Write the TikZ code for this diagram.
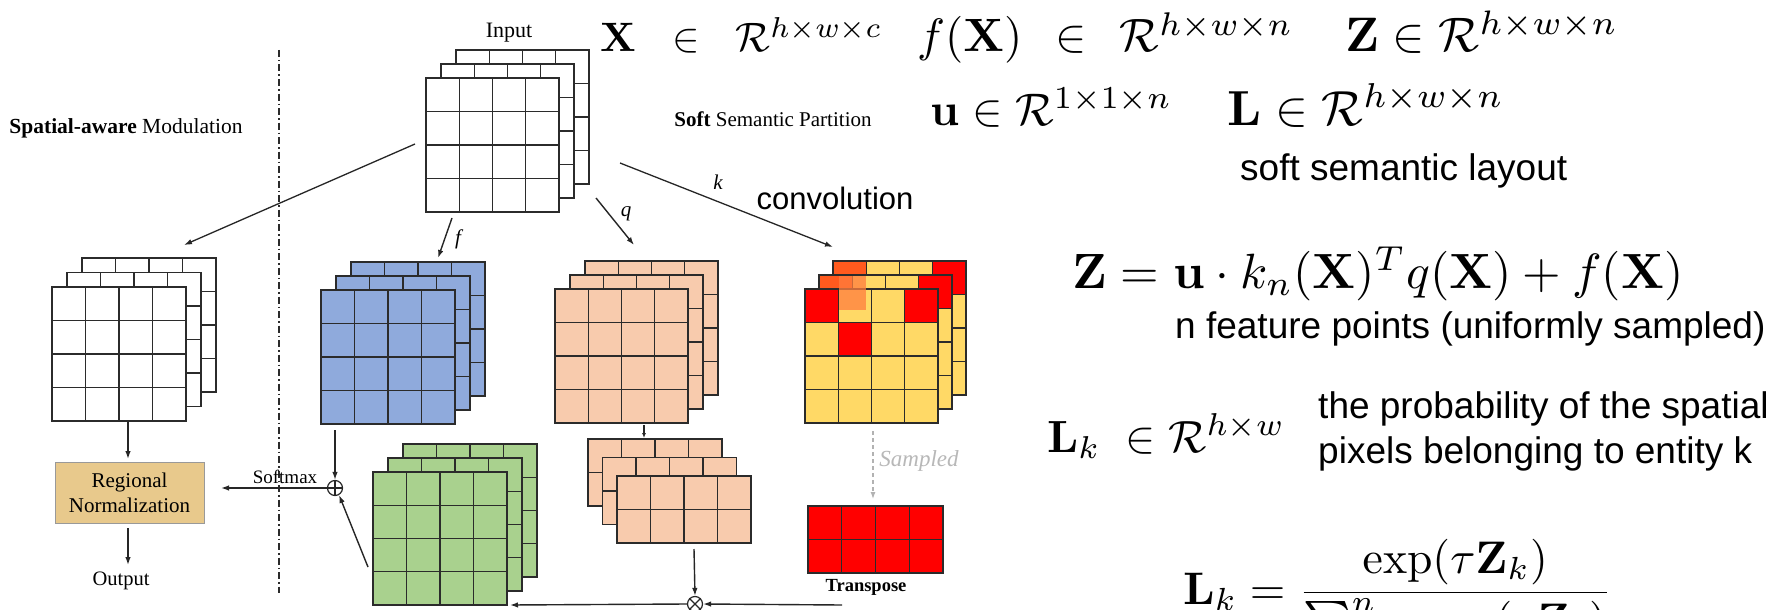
\documentclass[tikz,border=0pt]{standalone}
\usepackage{amsmath}
\usepackage{graphicx}
\usepackage[no-math]{fontspec}
\newfontfamily\tms{Liberation Serif}
\newfontfamily\arl{Liberation Sans}
\usetikzlibrary{arrows.meta}
\definecolor{edge}{HTML}{2B2B2B}
\definecolor{blu}{HTML}{8FAADC}
\definecolor{peach}{HTML}{F8CBAD}
\definecolor{grn}{HTML}{A9D18E}
\definecolor{yel}{HTML}{FFD966}
\definecolor{rd}{HTML}{FF0000}
\definecolor{ored}{HTML}{FF5A1E}
\definecolor{lor}{HTML}{FF7E3E}
\definecolor{boxc}{HTML}{E8C98C}
\definecolor{arrc}{HTML}{262626}
\tikzset{
  gl/.style={draw=edge, line width=1.3pt},
  arr/.style={draw=arrc, line width=1.4pt, -{Latex[length=8pt,width=5.5pt]}},
  serif/.style={font=\tms\fontsize{21}{25}\selectfont, inner sep=0pt},
  sans/.style={font=\arl\fontsize{37}{45}\selectfont, inner sep=0pt, anchor=base west},
  mathn/.style={inner sep=0pt, anchor=base west},
  lbl/.style={font=\tms\itshape\fontsize{21}{25}\selectfont, inner sep=0pt},
  opnode/.style={circle, draw=arrc, line width=1.2pt, minimum size=15pt, inner sep=0pt, fill=white},
  sep/.style={draw=edge, line width=1.2pt, dash pattern=on 7pt off 3pt on 1.5pt off 3pt},
}
\newcommand{\glayer}[7]{%
  \begingroup
  \pgfmathsetmacro\lx{#1}\pgfmathsetmacro\ly{#2}\pgfmathsetmacro\lw{#3}\pgfmathsetmacro\lh{#4}\pgfmathtruncatemacro\lr{#5}%
  \fill[#6] (\lx,\ly) rectangle ++(\lw,\lh);
  #7
  \foreach \k in {1,2,3} {\draw[gl] ({\lx+\k*\lw/4},\ly) -- ++(0,\lh);}
  \pgfmathtruncatemacro\nr{\lr-1}
  \foreach \k in {1,...,\nr} {\draw[gl] (\lx,{\ly+\k*\lh/\lr}) -- ++(\lw,0);}
  \draw[gl] (\lx,\ly) rectangle ++(\lw,\lh);
  \endgroup}
\newcommand{\cellc}[3]{\fill[#3] ({\lx+(#1-1)*\lw/4},{\ly+(#2-1)*\lh/\lr}) rectangle ++({\lw/4},{\lh/\lr});}
\newcommand{\gstack}[8]{%
  \glayer{#1+2*#7}{#2+2*#8}{#3}{#4}{#5}{#6}{}%
  \glayer{#1+#7}{#2+#8}{#3}{#4}{#5}{#6}{}%
  \glayer{#1}{#2}{#3}{#4}{#5}{#6}{}}
\begin{document}
\begin{tikzpicture}[x=1pt,y=-1pt]
\useasboundingbox (0,0) rectangle (1775,610);
\clip (0,0) rectangle (1775,610);
\fill[white] (0,0) rectangle (1775,610);

% ---------- feature stacks ----------
\gstack{426}{78}{133}{134}{4}{white}{15}{-14}
\node[inner sep=0, minimum width=133pt, minimum height=134pt, anchor=north west] (inp) at (426,78) {};
\gstack{52}{287}{134}{134}{4}{white}{15}{-14.5}
\node[inner sep=0, minimum width=134pt, minimum height=134pt, anchor=north west] (lft) at (52,287) {};
\gstack{321}{290}{134}{134}{4}{blu}{15}{-14}
\node[inner sep=0, minimum width=134pt, minimum height=134pt, anchor=north west] (blue) at (321,290) {};
\gstack{373}{472}{134}{133}{4}{grn}{15}{-14}
\node[inner sep=0, minimum width=134pt, minimum height=133pt, anchor=north west] (green) at (373,472) {};
\gstack{555}{289}{133}{134}{4}{peach}{15}{-14}
\node[inner sep=0, minimum width=133pt, minimum height=134pt, anchor=north west] (pch) at (555,289) {};
\gstack{617}{476}{134}{67}{2}{peach}{-14.5}{-18.5}
\node[inner sep=0, minimum width=134pt, minimum height=67pt, anchor=north west] (spch) at (617,476) {};
% yellow stack with red cells
\glayer{833}{261}{133}{134}{4}{yel}{\cellc{1}{1}{ored}\cellc{4}{1}{rd}}
\glayer{819}{275}{133}{134}{4}{yel}{\cellc{1}{1}{ored}\cellc{4}{1}{rd}}
\glayer{805}{289}{133}{134}{4}{yel}{\cellc{1}{1}{rd}\cellc{4}{1}{rd}\cellc{2}{2}{rd}}
\fill[lor, opacity=0.75] (838.5,276) rectangle (866,310);
\node[inner sep=0, minimum width=133pt, minimum height=134pt, anchor=north west] (yst) at (805,289) {};
% red sampled grid
\glayer{808}{506}{135}{67}{2}{rd}{}
\node[inner sep=0, minimum width=135pt, minimum height=67pt, anchor=north west] (redg) at (808,506) {};

% ---------- separator ----------
\coordinate (sepT) at (279,50);
\coordinate (sepB) at (279,593);
\draw[sep] (sepT) -- (sepB);

% ---------- texts ----------
\node[serif, font=\tms\fontsize{22}{26}\selectfont] (inlab) at (509,33) {Input};
\node[serif, font=\tms\fontsize{21.5}{26}\selectfont] (sam) at (126,128) {\textbf{Spatial-aware} Modulation};
\node[serif] (ssp) at (773,119) {\textbf{Soft} Semantic Partition};
\node[inner sep=0pt, font=\arl\fontsize{31}{36}\selectfont] (conv) at (835,198) {convolution};
\node[draw=black!40, line width=0.8pt, fill=boxc, minimum width=149pt, minimum height=61pt, align=center, inner sep=0pt, font=\tms\fontsize{21}{25}\selectfont] (rn) at (129.5,492.5) {Regional\\Normalization};
\node[serif, font=\tms\fontsize{20.5}{25}\selectfont] (outl) at (121,581) {Output};
\node[serif, font=\tms\fontsize{19}{23}\selectfont] (smx) at (285,477) {Softmax};
\node[serif, font=\tms\bfseries\fontsize{18.5}{22}\selectfont] (trp) at (866,587) {Transpose};
\node[inner sep=0pt, text=black!28, font=\tms\itshape\fontsize{23}{27}\selectfont] (smp) at (919,461) {Sampled};
\node[lbl] (fl) at (458,239) {f};
\node[lbl] (ql) at (626,214) {q};
\node[lbl] (kl) at (718,182) {k};

% ---------- operators ----------
\node[opnode] (oplus) at (335,488) {};
\draw[line width=1.1pt, arrc] (oplus.north) -- (oplus.south) (oplus.west) -- (oplus.east);
\node[opnode] (otimes) at (695,604) {};
\draw[line width=1.1pt, arrc] (otimes.45) -- (otimes.225) (otimes.135) -- (otimes.315);

% ---------- connectors ----------
\coordinate (a1s) at (415,144); \coordinate (a1e) at (184,245);
\draw[arr, line width=1.3pt] (a1s) -- (a1e);
\coordinate (fs) at (452,218); \coordinate (fe) at (438,258);
\draw[arr] (fs) -- (fe);
\coordinate (qs) at (596,198); \coordinate (qe) at (634,245);
\draw[arr] (qs) -- (qe);
\coordinate (ks) at (620,163); \coordinate (ke) at (833,247);
\draw[arr, line width=1.3pt] (ks) -- (ke);
\coordinate (ls) at (128,422); \coordinate (le) at (128,459);
\draw[arr] (ls) -- (le);
\coordinate (os) at (128,528); \coordinate (oe) at (128,565);
\draw[arr] (os) -- (oe);
\coordinate (bs) at (335,430);
\draw[arr] (bs) -- (oplus.north);
\coordinate (sme) at (221,488);
\draw[arr] (oplus.west) -- (sme);
\coordinate (gs) at (368,567);
\draw[arr] (gs) -- (oplus.-60);
\coordinate (ps) at (644,425); \coordinate (pe) at (644,438);
\draw[arr, -{Latex[length=5pt,width=4pt]}] (ps) -- (pe);
\coordinate (ss) at (694,549);
\draw[arr] (ss) -- (otimes.north);
\coordinate (rs) at (842,605);
\draw[arr] (rs) -- (otimes.east);
\coordinate (ge) at (510,605);
\draw[arr] (otimes.west) -- (ge);
\coordinate (sas) at (873,431); \coordinate (sae) at (873,499);
\draw[draw=black!30, line width=1.2pt, dash pattern=on 4pt off 3pt, -{Latex[length=7pt,width=5pt]}] (sas) -- (sae);

% ---------- right column ----------
\node[mathn] (m1) at (600,52) {\resizebox{282pt}{!}{$\mathbf{X}\hspace{0.6em}\in\hspace{0.6em}\mathcal{R}^{h\times w\times c}$}};
\node[mathn] (m2) at (917,52) {\resizebox{376pt}{!}{$f(\mathbf{X})\hspace{0.43em}\in\hspace{0.43em}\mathcal{R}^{h\times w\times n}$}};
\node[mathn] (m3) at (1345,52) {\resizebox{273pt}{!}{$\mathbf{Z}\in\mathcal{R}^{h\times w\times n}$}};
\node[mathn] (m4) at (930,125) {\resizebox{242pt}{!}{$\mathbf{u}\in\mathcal{R}^{1\times1\times n}$}};
\node[mathn] (m5) at (1227,125) {\resizebox{277pt}{!}{$\mathbf{L}\in\mathcal{R}^{h\times w\times n}$}};
\node[sans] (t1) at (1240,180) {soft semantic layout};
\node[mathn] (m6) at (1072,288) {\resizebox{611pt}{!}{$\mathbf{Z}=\mathbf{u}\cdot k_n(\mathbf{X})^Tq(\mathbf{X})+f(\mathbf{X})$}};
\node[sans] (t2) at (1175,338) {n feature points (uniformly sampled)};
\node[mathn] (m7) at (1047,452) {\resizebox{238pt}{!}{$\mathbf{L}_k\;\in\mathcal{R}^{h\times w}$}};
\node[sans] (t3) at (1318,418) {the probability of the spatial};
\node[sans] (t4) at (1318,463) {pixels belonging to entity k};
\node[mathn] (m8) at (1183,604) {\resizebox{429pt}{!}{$\displaystyle\mathbf{L}_k=\frac{\exp(\tau\mathbf{Z}_k)}{\sum_{j=1}^{n}\exp(\tau\mathbf{Z}_j)}$}};
\end{tikzpicture}
\end{document}
